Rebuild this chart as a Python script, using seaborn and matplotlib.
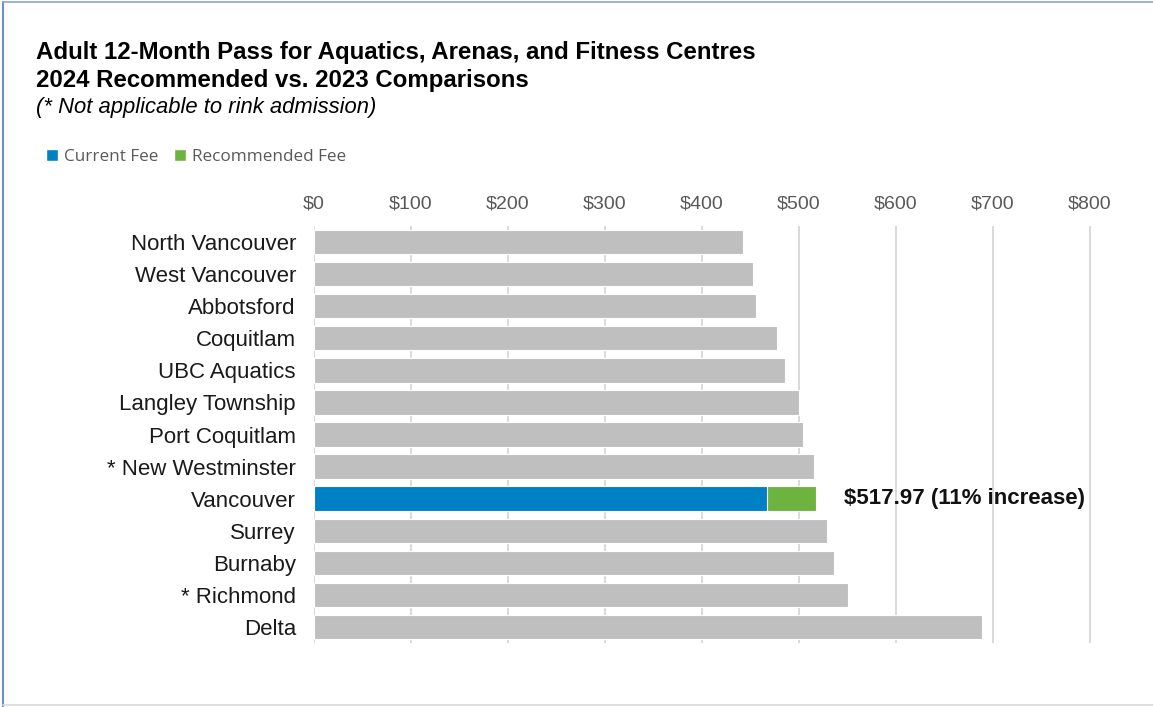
import matplotlib
matplotlib.use("Agg")
import matplotlib.pyplot as plt
from matplotlib.patches import Patch
from matplotlib.lines import Line2D
import seaborn as sns
import pandas as pd

cities = ["North Vancouver", "West Vancouver", "Abbotsford", "Coquitlam", "UBC Aquatics",
          "Langley Township", "Port Coquitlam", "* New Westminster", "Vancouver", "Surrey",
          "Burnaby", "* Richmond", "Delta"]
fees = [442, 453, 456, 477, 486, 500, 504, 515, 517.97, 529, 536, 550, 689]
current_city = "Vancouver"
current_fee = 466.6
tick_values = [0, 100, 200, 300, 400, 500, 600, 700, 800]
tick_labels = ["$0", "$100", "$200", "$300", "$400", "$500", "$600", "$700", "$800"]
annotation = "$517.97 (11% increase)"

GRAY = "#BFBFBF"
BLUE = "#0081C6"
GREEN = "#6DB33F"

sns.set_style("white")
plt.rcParams["font.family"] = ["Liberation Sans", "DejaVu Sans"]

df = pd.DataFrame({"city": cities, "fee": fees})
df_cur = pd.DataFrame({"city": [current_city], "fee": [current_fee]})
palette = {c: (GREEN if c == current_city else GRAY) for c in cities}

fig = plt.figure(figsize=(11.53, 7.07), dpi=100)
ax = fig.add_axes([314 / 1153, 1 - 643 / 707, (1091 - 314) / 1153, (643 - 226) / 707])

sns.barplot(data=df, y="city", x="fee", hue="city", palette=palette, order=cities,
            hue_order=cities, legend=False, width=0.76, orient="h", ax=ax, saturation=1,
            edgecolor="white", linewidth=0.8)
sns.barplot(data=df_cur, y="city", x="fee", order=cities, color=BLUE, width=0.76,
            orient="h", ax=ax, saturation=1, edgecolor="white", linewidth=0.8)

ax.set_xlim(0, 801)
ax.set_ylim(len(cities) - 0.5, -0.5)
ax.set_xticks(tick_values)
ax.set_xticklabels(tick_labels)
ax.xaxis.tick_top()
ax.tick_params(axis="x", length=0, pad=10, labelsize=14, labelcolor="#595959")
ax.tick_params(axis="y", length=0, pad=13, labelsize=16, labelcolor="#1a1a1a")
ax.set_xlabel("")
ax.set_ylabel("")
for s in ax.spines.values():
    s.set_visible(False)
ax.set_axisbelow(True)
ax.grid(axis="x", color="#D9D9D9", linewidth=1.4)
ax.grid(axis="y", visible=False)

vi = cities.index(current_city)
ax.annotate(annotation, xy=(fees[vi], vi), xytext=(19.5, 0), textcoords="offset points",
            ha="left", va="center", fontsize=16, fontweight="bold", color="#111111")

fig.text(36 / 1153, 1 - 52 / 707, "Adult 12-Month Pass for Aquatics, Arenas, and Fitness Centres",
         fontsize=17.3, fontweight="bold", va="center", ha="left", color="#000000")
fig.text(36 / 1153, 1 - 80 / 707, "2024 Recommended vs. 2023 Comparisons",
         fontsize=17.3, fontweight="bold", va="center", ha="left", color="#000000")
fig.text(36 / 1153, 1 - 107 / 707, "(* Not applicable to rink admission)",
         fontsize=15.8, style="italic", va="center", ha="left", color="#000000")

handles = [Patch(facecolor=BLUE, label="Current Fee"), Patch(facecolor=GREEN, label="Recommended Fee")]
leg = fig.legend(handles=handles, loc="center left", bbox_to_anchor=(31 / 1153, 1 - 157 / 707),
                 ncol=2, frameon=False, handlelength=0.7, handleheight=0.7, handletextpad=0.35,
                 columnspacing=0.9, prop={"family": "Open Sans", "size": 12.3})
for t in leg.get_texts():
    t.set_color("#595959")

# frame around the chart
fig.add_artist(Line2D([2.5 / 1153, 2.5 / 1153], [0, 1 - 2 / 707], color="#6F8FC5", lw=1.5, transform=fig.transFigure))
fig.add_artist(Line2D([2.5 / 1153, 1], [1 - 2 / 707, 1 - 2 / 707], color="#8EA6D0", lw=1.2, transform=fig.transFigure))
fig.add_artist(Line2D([2.5 / 1153, 1], [2 / 707, 2 / 707], color="#D9D9D9", lw=1.2, transform=fig.transFigure))

fig.savefig("out.png", dpi=100)
